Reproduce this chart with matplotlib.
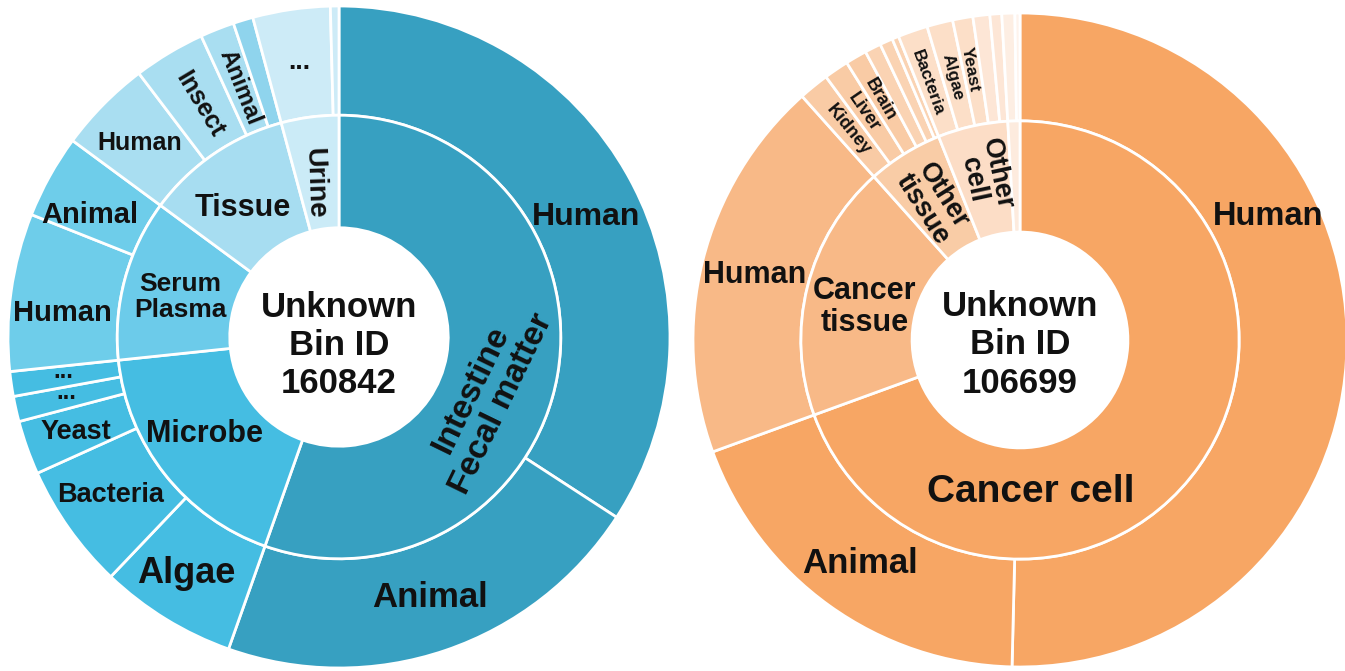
import numpy as np
import matplotlib.pyplot as plt

plt.rcParams["font.family"] = ["Liberation Sans", "DejaVu Sans"]

# ---- left sunburst (angles in degrees, clockwise from 12 o'clock)
left_title = "Unknown\nBin ID\n160842"
left_inner_labels = ["Intestine\nFecal matter", "Microbe", "Serum\nPlasma", "Tissue", "Urine"]
left_inner_sizes = [199.5, 64.5, 42.4, 38.5, 15.1]
left_inner_colors = ["#37a0c1", "#45bde2", "#6ccbea", "#a7ddf1", "#cbebf7"]

left_outer_labels = ["Human", "Animal", "Algae", "Bacteria", "Yeast", "...", "...",
                     "Human", "Animal", "Human", "Insect", "Animal", "", "...", ""]
left_outer_sizes = [123, 76.5, 24.1, 22.1, 9.5, 4.45, 4.35,
                    27.7, 14.7, 16.4, 12.6, 6.0, 3.5, 13.6, 1.5]
left_outer_colors = ["#37a0c1", "#37a0c1", "#45bde2", "#45bde2", "#45bde2", "#45bde2", "#45bde2",
                     "#6ecdea", "#6ecdea", "#a9def1", "#a9def1", "#a9def1", "#8fd4ed", "#cdebf7", "#cdebf7"]

# ---- right sunburst
right_title = "Unknown\nBin ID\n106699"
right_inner_labels = ["Cancer cell", "Cancer\ntissue", "Other\ntissue", "Other\ncell", ""]
right_inner_sizes = [250, 68.2, 20.0, 18.6, 3.2]
right_inner_colors = ["#f7a664", "#f8b987", "#f9cca6", "#fcddc6", "#fdebde"]

right_outer_labels = ["Human", "Animal", "Human", "Kidney", "Liver", "Brain", "", "", "",
                      "Bacteria", "Algae", "Yeast", "", "", "", ""]
right_outer_sizes = [181.4, 68.6, 68.2, 5.4, 4.4, 3.8, 2.9, 2.3, 1.2,
                     5.3, 4.6, 3.6, 3.0, 2.1, 2.3, 0.9]
right_outer_colors = ["#f7a664", "#f7a664", "#f8b987", "#f9cba5", "#f9cba5", "#f9cba5", "#fad3b3", "#fad3b3", "#fad3b3",
                      "#fcdfc8", "#fcdfc8", "#fcdfc8", "#fde6d6", "#fde6d6", "#fdeee3", "#fef3ec"]


def mid_angles(sizes):
    edges = np.concatenate([[0], np.cumsum(sizes)])
    return (edges[:-1] + edges[1:]) / 2


def polar(theta, r):
    t = np.deg2rad(theta)
    return r * np.sin(t), r * np.cos(t)


def radial_rot(theta):
    rot = -90 - theta
    while rot < -180:
        rot += 360
    return rot


def sunburst(ax, inner_sizes, inner_colors, outer_sizes, outer_colors):
    ax.pie(outer_sizes, radius=1.0, colors=outer_colors, startangle=90, counterclock=False,
           wedgeprops=dict(width=0.33, edgecolor="white", linewidth=2))
    ax.pie(inner_sizes, radius=0.67, colors=inner_colors, startangle=90, counterclock=False,
           wedgeprops=dict(width=0.34, edgecolor="white", linewidth=2))
    ax.set_xlim(-1, 1)
    ax.set_ylim(-1, 1)
    ax.set_aspect("equal")
    ax.axis("off")


def put_labels(ax, labels, sizes, styles, ls=1.1):
    # styles: (angle offset, radius, fontsize, rotation) ; rotation "r" = radial
    for lab, th, st in zip(labels, mid_angles(sizes), styles):
        if lab == "":
            continue
        dth, r, fs, rot = st
        th = th + dth
        if rot == "r":
            rot = radial_rot(th)
        x, y = polar(th, r)
        ax.text(x, y, lab, ha="center", va="center", fontsize=fs, fontweight="bold",
                rotation=rot, rotation_mode="anchor", color="#111111", linespacing=ls)


fig = plt.figure(figsize=(13.45, 6.71), dpi=100)
W, H = 1345, 671

# left chart: centre (339, 337) px, radius 331 px
axL = fig.add_axes([(339 - 331) / W, (H - 337 - 331) / H, 662 / W, 662 / H])
sunburst(axL, left_inner_sizes, left_inner_colors, left_outer_sizes, left_outer_colors)
put_labels(axL, left_inner_labels, left_inner_sizes,
           [(12.2, 0.48, 24, 64), (2.5, 0.50, 22, 0), (-1, 0.495, 19, 0),
            (-2.5, 0.487, 22, 0), (-1.5, 0.47, 20, -88)])
put_labels(axL, left_outer_labels, left_outer_sizes,
           [(2.5, 0.83, 23, 0), (-0.5, 0.835, 25, 0), (1.3, 0.85, 26, 0), (0.7, 0.84, 19.5, 0),
            (-0.3, 0.846, 19.5, 0), (1.0, 0.84, 17, 0), (1.0, 0.84, 17, 0),
            (-2.8, 0.84, 21, 0), (-3, 0.837, 21, 0), (-0.3, 0.84, 18, 0),
            (0, 0.82, 18, "r"), (0, 0.81, 17, "r"), (0, 0.8, 10, 0), (0, 0.84, 19, 0), (0, 0.8, 10, 0)])
axL.text(0, -0.025, left_title, ha="center", va="center", fontsize=25, fontweight="bold",
         color="#111111", linespacing=1.2)

# right chart: centre (1020, 340) px, radius 327 px
axR = fig.add_axes([(1020 - 327) / W, (H - 340 - 327) / H, 654 / W, 654 / H])
sunburst(axR, right_inner_sizes, right_inner_colors, right_outer_sizes, right_outer_colors)
put_labels(axR, right_inner_labels[:2], right_inner_sizes[:2],
           [(51, 0.465, 28, 0), (-2, 0.485, 22, 0)])
# narrow "Other" wedges: tighter lines
put_labels(axR, ["", ""] + right_inner_labels[2:], right_inner_sizes,
           [(0, 0, 1, 0), (0, 0, 1, 0), (-0.6, 0.497, 19.5, "r"), (0.4, 0.51, 19.5, "r"), (0, 0.5, 10, 0)],
           ls=0.92)
put_labels(axR, right_outer_labels, right_outer_sizes,
           [(-27.1, 0.847, 23.5, 0), (0, 0.84, 25, 0), (-0.3, 0.835, 22, 0),
            (-0.2, 0.83, 13, "r"), (-0.3, 0.845, 13, "r"), (0, 0.85, 13, "r"),
            (0, 0.8, 10, 0), (0, 0.8, 10, 0), (0, 0.8, 10, 0),
            (-0.7, 0.835, 12.5, "r"), (-0.1, 0.83, 12.5, "r"), (-0.4, 0.84, 12.5, "r"),
            (0, 0.8, 10, 0), (0, 0.8, 10, 0), (0, 0.8, 10, 0), (0, 0.8, 10, 0)])
axR.text(0, -0.015, right_title, ha="center", va="center", fontsize=25, fontweight="bold",
         color="#111111", linespacing=1.2)

fig.savefig("out.png", dpi=100)
